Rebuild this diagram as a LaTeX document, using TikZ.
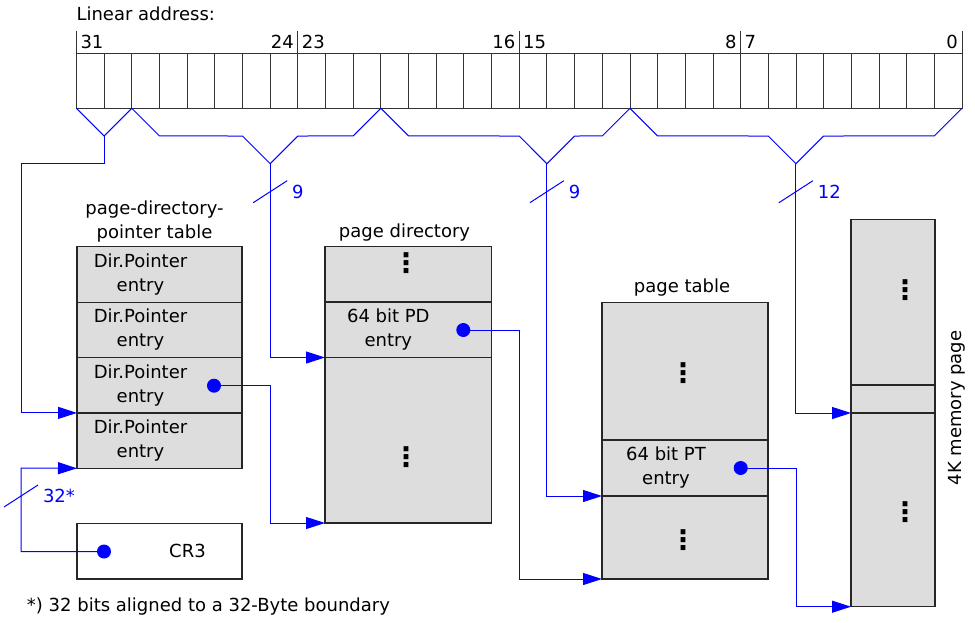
\documentclass[tikz,border=0pt]{standalone}
\usepackage{fontspec}
\setmainfont{DejaVu Sans}
\usetikzlibrary{positioning,arrows.meta}

\definecolor{rowgray}{RGB}{221,221,221}

\tikzset{
  paging/.style={
    every node/.style={font=\fontsize{18}{24}\selectfont, inner sep=0pt, outer sep=0pt},
  },
  bitcell/.style={draw=black!80, line width=0.8pt, minimum width=27.67pt, minimum height=55.3pt},
  row/.style={draw=black!85, line width=1.2pt, fill=rowgray, minimum width=165pt, anchor=north west},
  link/.style={draw=blue, line width=1pt},
  tolink/.style={link, -{Triangle[length=19pt,width=12pt]}},
  bitno/.style={text=blue},
}
\newcommand{\bitbrace}[4]{%
  \draw[link] (#1.south west) -- ++(27.67,27.67) -- (#2-27.67,136) -- (#2,163.7) coordinate (#4)
     -- (#2+27.67,136) -- ([shift={(-27.67,27.67)}]#3.south east) -- (#3.south east);
}
\newcommand{\slashmark}[3]{%
  \draw[link] ([shift={(-17,39)}]#1) -- ++(34,-22);
  \node[bitno, anchor=west] (#3) at ([shift={(22,28)}]#1) {#2};
}

\begin{document}
\begin{tikzpicture}[x=1pt, y=-1pt, paging]
        \tikzstyle{dot}=[circle,fill=blue,minimum size=14pt]
        \tikzstyle{vdots}=[font=\fontsize{27}{27}\selectfont\bfseries]
        \useasboundingbox (0,0) rectangle (975,622);

        % linear address
        \node[anchor=west] (title) at (76.5,14) {Linear address:};
        \foreach \k in {0,...,31}{
            \pgfmathtruncatemacro{\n}{31-\k}
            \node[bitcell] (bit\n) at ({76.5+(\k+0.5)*27.67},80.65) {};
        }
        \foreach \bt in {31,23,15,7}
            \draw[black!80, line width=0.8pt] (bit\bt.north west) -- ++(0,-22);
        \draw[black!80, line width=0.8pt] (bit0.north east) -- ++(0,-22);

        \node[anchor=west] (l31) at ([shift={(4,-11)}]bit31.north west) {31};
        \node[anchor=east] (l24) at ([shift={(-4,-11)}]bit24.north east) {24};
        \node[anchor=west] (l23) at ([shift={(4,-11)}]bit23.north west) {23};
        \node[anchor=east] (l16) at ([shift={(-4,-11)}]bit16.north east) {16};
        \node[anchor=west] (l15) at ([shift={(4,-11)}]bit15.north west) {15};
        \node[anchor=east] (l8) at ([shift={(-4,-11)}]bit8.north east) {8};
        \node[anchor=west] (l7) at ([shift={(4,-11)}]bit7.north west) {7};
        \node[anchor=east] (l0) at ([shift={(-4,-11)}]bit0.north east) {0};

        % bit groups
        \draw[link] (bit31.south west) -- ++(27.67,27.67) coordinate (apexA) -- (bit30.south east);
        \bitbrace{bit29}{270.19}{bit21}{apexB}
        \bitbrace{bit20}{546.89}{bit12}{apexC}
        \bitbrace{bit11}{795.92}{bit0}{apexD}

        % page-directory-pointer table
        \node[align=center] (PDPT_title) at (154.5,221.5) {page-directory-\\pointer table};
        \node[row, minimum height=55.4pt] (PDPT_1) at (77,246.7) {};
        \node[row, minimum height=55.4pt, below=0pt of PDPT_1] (PDPT_2) {};
        \node[row, minimum height=55.4pt, below=0pt of PDPT_2] (PDPT_3) {};
        \node[row, minimum height=55.4pt, below=0pt of PDPT_3] (PDPT_4) {};
        \foreach \i in {1,...,4}
            \node[align=center] (PDPT_t\i) at ([xshift=-19pt]PDPT_\i.center) {Dir.Pointer\\entry};
        \node[dot] (PDPT_dot) at (214,385.7) {};

        % CR3
        \node[row, fill=white, minimum height=55.5pt] (CR3) at (77,523.5) {};
        \node (CR3_t) at ([xshift=28pt]CR3.center) {CR3};
        \node[dot] (CR3_dot) at (104,551.5) {};

        % page directory
        \node (PD_title) at (404.5,233) {page directory};
        \node[row, minimum width=166.7pt, minimum height=55.3pt] (PD_1) at (325,246.7) {};
        \node[row, minimum width=166.7pt, minimum height=55.5pt, below=0pt of PD_1] (PD_2) {};
        \node[row, minimum width=166.7pt, minimum height=165.5pt, below=0pt of PD_2] (PD_3) {};
        \node[align=center] (PD_t) at ([xshift=-20pt]PD_2.center) {64 bit PD\\entry};
        \node[dot] (PD_dot) at (463.3,330) {};
        \node[vdots] (PD_v1) at (406,263) {⋮};
        \node[vdots] (PD_v3) at (406,457) {⋮};

        % page table
        \node (PT_title) at (682,288) {page table};
        \node[row, minimum width=166pt, minimum height=137.7pt] (PT_1) at (602,302.3) {};
        \node[row, minimum width=166pt, minimum height=56pt, below=0pt of PT_1] (PT_2) {};
        \node[row, minimum width=166pt, minimum height=83pt, below=0pt of PT_2] (PT_3) {};
        \node[align=center] (PT_t) at ([xshift=-19pt]PT_2.center) {64 bit PT\\entry};
        \node[dot] (PT_dot) at (740.7,468) {};
        \node[vdots] (PT_v1) at (683,373) {⋮};
        \node[vdots] (PT_v3) at (683,540) {⋮};

        % 4K memory page
        \node[row, minimum width=84pt, minimum height=165.7pt] (MEM_1) at (851,219.3) {};
        \node[row, minimum width=84pt, minimum height=28pt, below=0pt of MEM_1] (MEM_2) {};
        \node[row, minimum width=84pt, minimum height=193.7pt, below=0pt of MEM_2] (MEM_3) {};
        \node[vdots] (MEM_v1) at (905,290) {⋮};
        \node[vdots] (MEM_v3) at (905,512) {⋮};
        \node[rotate=90] (MEM_title) at (956.5,408) {4K memory page};

        \node[anchor=west] (note) at (27,606.5) {*) 32 bits aligned to a 32-Byte boundary};

        % connectors
        \coordinate (ptrA) at (21,163.7);
        \coordinate (ptrB) at (21,468);
        \draw[tolink] (apexA) |- (ptrA) |- (PDPT_3.south west);
        \draw[tolink] (CR3_dot.center) -| (ptrB) -- (PDPT_4.south west);
        \draw[tolink] (apexB) |- (PD_2.south west);
        \draw[tolink] (PDPT_dot.center) -| ([xshift=-55pt]PD_3.south west) -- (PD_3.south west);
        \draw[tolink] (apexC) |- (PT_2.south west);
        \draw[tolink] (PD_dot.center) -| ([xshift=-83pt]PT_3.south west) -- (PT_3.south west);
        \draw[tolink] (apexD) |- (MEM_2.south west);
        \draw[tolink] (PT_dot.center) -| ([xshift=-55pt]MEM_3.south west) -- (MEM_3.south west);

        \slashmark{apexB}{9}{nB}
        \slashmark{apexC}{9}{nC}
        \slashmark{apexD}{12}{nD}
        \slashmark{ptrB}{32*}{nCR}
\end{tikzpicture}
\end{document}
